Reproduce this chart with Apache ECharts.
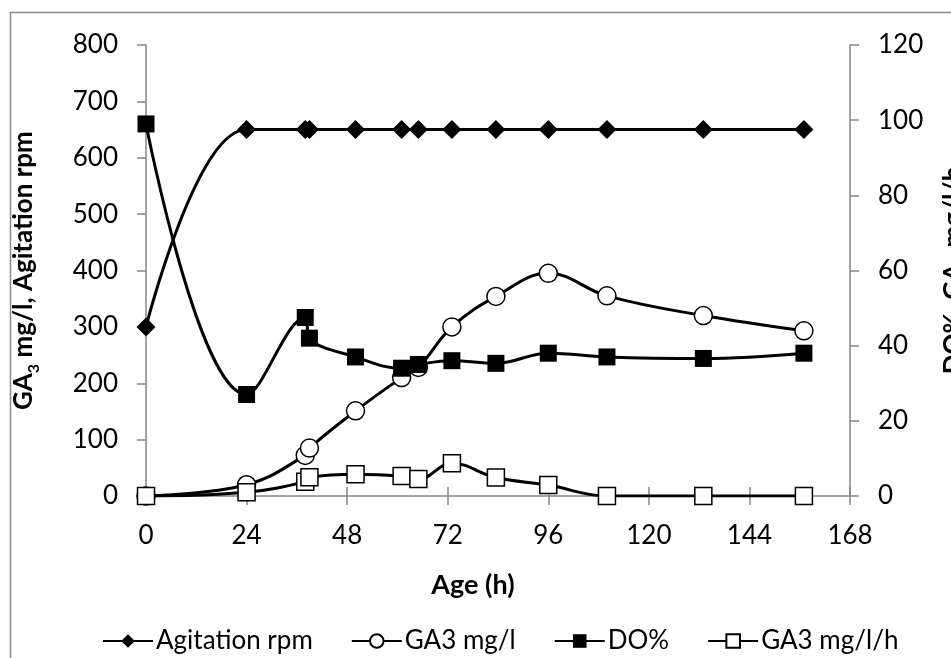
<!DOCTYPE html>
<html>
<head>
<meta charset="utf-8">
<script src="https://cdn.jsdelivr.net/npm/echarts@6/dist/echarts.min.js"></script>
<style>
  html, body { margin: 0; padding: 0; background: #fff; }
  #main { width: 951px; height: 658px; }
</style>
</head>
<body>
<div id="main"></div>
<script>
// sampling times (h)
const hours = [0, 24, 38, 39, 50, 61, 65, 73, 83.5, 96, 110, 133, 157]
// left axis
const agitation = [300, 650, 650, 650, 650, 650, 650, 650, 650, 650, 650, 650, 650]
const ga3 = [0, 20, 72, 85, 151, 210, 228, 300, 354, 395, 355, 320, 293]
// right axis
const dissolvedO2 = [99, 27, 47.5, 42, 37, 34, 35, 36, 35.3, 38, 37, 36.6, 38]
const ga3Rate = [0, 1, 3.8, 5, 5.8, 5.3, 4.5, 8.7, 4.9, 2.9, 0, 0, 0]

const seriesNames = ['Agitation rpm', 'GA3 mg/l', 'DO%', 'GA3 mg/l/h']
const xTicks = [0, 24, 48, 72, 96, 120, 144, 168]
const leftTicks = [0, 100, 200, 300, 400, 500, 600, 700, 800]
const rightTicks = [0, 20, 40, 60, 80, 100, 120]

const FONT = 'Lato'
const AXIS_GRAY = '#868686'

function pairs(ys) {
  return hours.map((h, i) => [h, ys[i]])
}

const chart = echarts.init(document.getElementById('main'), null, { renderer: 'canvas' })

const subRich = {
  s: { fontSize: 16, fontWeight: 'bold', fontFamily: FONT, verticalAlign: 'bottom', lineHeight: 36 }
}

function lineSeries(name, data, yIdx, symbol, size, filled) {
  return {
    name: name,
    type: 'line',
    xAxisIndex: 0,
    yAxisIndex: yIdx,
    data: pairs(data),
    smooth: 0.4,
    symbol: symbol,
    symbolSize: size,
    lineStyle: { color: '#000', width: 3 },
    itemStyle: filled
      ? { color: '#000', borderColor: '#000', borderWidth: 0 }
      : { color: '#fff', borderColor: '#000', borderWidth: 1.5 },
    emphasis: { disabled: true },
    animation: false
  }
}

// legend text slots, so the items sit where the original put them
const legendSlots = [165, 114, 63, 140]

const option = {
  backgroundColor: '#fff',
  animation: false,
  textStyle: { fontFamily: FONT, color: '#000' },
  grid: { left: 146, right: 101, top: 45, bottom: 162, outerBoundsMode: 'none', containLabel: false },
  graphic: [
    {
      type: 'rect',
      shape: { x: 10.5, y: 12.5, width: 1000, height: 800 },
      style: { fill: 'none', stroke: '#8c8c8c', lineWidth: 1.5 },
      silent: true
    },
    {
      type: 'text',
      x: 473,
      y: 585,
      style: {
        text: 'Age (h)',
        font: 'bold 27px ' + FONT,
        fill: '#000',
        align: 'center',
        verticalAlign: 'middle'
      },
      silent: true
    }
  ],
  legend: {
    left: 97,
    top: 623,
    itemWidth: 50,
    itemHeight: 17,
    itemGap: 38,
    textStyle: { fontFamily: FONT, fontSize: 26, color: '#000', padding: [0, 0, 0, -2] },
    data: seriesNames.map((n, i) => ({ name: n, textStyle: { width: legendSlots[i] } }))
  },
  xAxis: [
    {
      type: 'value',
      min: xTicks[0],
      max: xTicks[xTicks.length - 1],
      interval: 24,
      axisLine: { show: true, onZero: false, lineStyle: { color: AXIS_GRAY, width: 1.5 } },
      axisTick: { show: true, length: 9, lineStyle: { color: AXIS_GRAY, width: 1.5 } },
      axisLabel: { fontFamily: FONT, fontSize: 26, color: '#000', margin: 27 },
      splitLine: { show: false }
    },
    {
      // inner half of the cross ticks
      type: 'value',
      position: 'bottom',
      min: xTicks[0],
      max: xTicks[xTicks.length - 1],
      interval: 24,
      axisLine: { show: false, onZero: false },
      axisTick: { show: true, inside: true, length: 9, lineStyle: { color: AXIS_GRAY, width: 1.5 } },
      axisLabel: { show: false },
      splitLine: { show: false }
    }
  ],
  yAxis: [
    {
      type: 'value',
      position: 'left',
      min: leftTicks[0],
      max: leftTicks[leftTicks.length - 1],
      interval: 100,
      name: 'GA{s|3} mg/l, Agitation rpm',
      nameLocation: 'middle',
      nameGap: 104,
      nameRotate: 90,
      nameTextStyle: { fontFamily: FONT, fontSize: 26, fontWeight: 'bold', color: '#000', lineHeight: 36, rich: subRich },
      axisLine: { show: true, onZero: false, lineStyle: { color: AXIS_GRAY, width: 1.5 } },
      axisTick: { show: true, length: 9, lineStyle: { color: AXIS_GRAY, width: 1.5 } },
      axisLabel: { fontFamily: FONT, fontSize: 26, color: '#000', margin: 28 },
      splitLine: { show: false }
    },
    {
      type: 'value',
      position: 'right',
      min: rightTicks[0],
      max: rightTicks[rightTicks.length - 1],
      interval: 20,
      name: 'DO%, GA{s|3} mg/l/h',
      nameLocation: 'middle',
      nameGap: 86,
      nameRotate: 90,
      nameTextStyle: { fontFamily: FONT, fontSize: 26, fontWeight: 'bold', color: '#000', lineHeight: 36, rich: subRich },
      axisLine: { show: true, onZero: false, lineStyle: { color: AXIS_GRAY, width: 1.5 } },
      axisTick: { show: true, length: 9, lineStyle: { color: AXIS_GRAY, width: 1.5 } },
      axisLabel: { fontFamily: FONT, fontSize: 26, color: '#000', margin: 28 },
      splitLine: { show: false }
    }
  ],
  series: [
    lineSeries(seriesNames[0], agitation, 0, 'diamond', 19, true),
    lineSeries(seriesNames[1], ga3, 0, 'circle', 18, false),
    lineSeries(seriesNames[2], dissolvedO2, 1, 'rect', 17, true),
    lineSeries(seriesNames[3], ga3Rate, 1, 'rect', 17, false)
  ]
}

chart.setOption(option)
</script>
</body>
</html>
